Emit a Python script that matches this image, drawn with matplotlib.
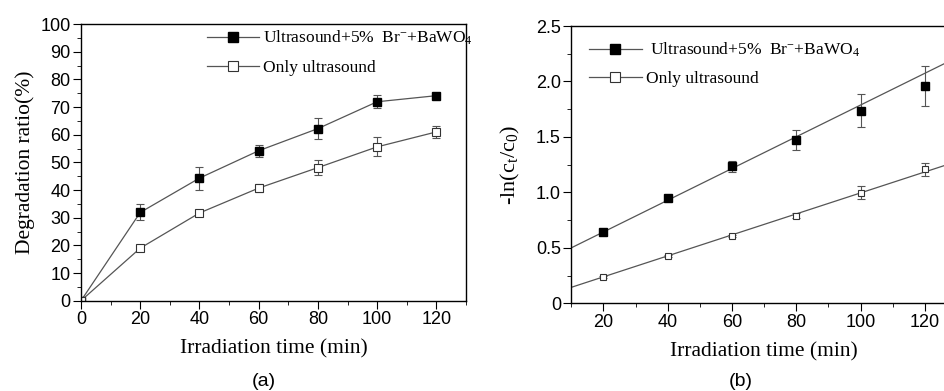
import numpy as np
import matplotlib.pyplot as plt
from matplotlib.ticker import MultipleLocator

plt.rcParams['mathtext.fontset'] = 'custom'
plt.rcParams['mathtext.rm'] = 'Liberation Serif'
plt.rcParams['mathtext.it'] = 'Liberation Serif:italic'
plt.rcParams['font.family'] = 'Liberation Sans'

# (a) degradation ratio
t_a = [0, 20, 40, 60, 80, 100, 120]
deg_br = [0, 31.9, 44.3, 54.2, 62.2, 71.9, 74.1]
deg_br_err = [0, 2.9, 4.2, 2.1, 3.7, 2.3, 0.8]
deg_only = [0, 19.0, 31.7, 40.7, 48.1, 55.6, 61.0]
deg_only_err = [0, 0.5, 0.5, 1.3, 2.6, 3.4, 2.1]

# (b) -ln(ct/c0)
t_b = [20, 40, 60, 80, 100, 120]
ln_br = [0.64, 0.945, 1.235, 1.47, 1.737, 1.956]
ln_br_err = [0.02, 0.02, 0.05, 0.09, 0.147, 0.18]
ln_only = [0.24, 0.427, 0.61, 0.79, 0.998, 1.208]
ln_only_err = [0.01, 0.01, 0.01, 0.02, 0.057, 0.06]
# fitted lines (end points)
fit_x = [10, 130]
fit_br = [0.50, 2.217]
fit_only = [0.144, 1.279]

lbl_br = 'Ultrasound+5%  Br$^{-}$+BaWO$_4$'
lbl_only = 'Only ultrasound'

line_c = '#555555'
serif = 'Liberation Serif'

fig = plt.figure(figsize=(9.44, 3.91), dpi=100)
ax1 = fig.add_axes([0.0858, 0.2309, 0.4078, 0.7077])
ax2 = fig.add_axes([0.6052, 0.2243, 0.4086, 0.7092])


def style(ax):
    for s in ax.spines.values():
        s.set_linewidth(1.0)
    ax.tick_params(which='both', direction='out', top=False, right=False, labelsize=13)
    ax.tick_params(which='major', length=5.5, pad=2)
    ax.tick_params(which='minor', length=3)


def handles(ax):
    hb, = ax.plot([], [], color=line_c, lw=0.9, marker='s', ms=6.5, mfc='black', mec='black')
    ho, = ax.plot([], [], color=line_c, lw=0.9, marker='s', ms=6.5, mfc='white',
                  mec='#333333', mew=0.8)
    return [hb, ho]


# ---- (a)
ax1.errorbar(t_a, deg_br, yerr=deg_br_err, color=line_c, lw=0.9, marker='s', ms=6,
             mfc='black', mec='black', ecolor=line_c, elinewidth=0.8, capsize=3, capthick=0.8)
ax1.errorbar(t_a, deg_only, yerr=deg_only_err, color=line_c, lw=0.9, marker='s', ms=5.5,
             mfc='white', mec='#333333', mew=0.8, ecolor=line_c, elinewidth=0.8, capsize=3,
             capthick=0.8)
ax1.set_xlim(0, 130)
ax1.set_ylim(0, 100)
ax1.xaxis.set_major_locator(MultipleLocator(20))
ax1.xaxis.set_minor_locator(MultipleLocator(10))
ax1.yaxis.set_major_locator(MultipleLocator(10))
ax1.yaxis.set_minor_locator(MultipleLocator(5))
style(ax1)
ax1.set_xlabel('Irradiation time (min)', family=serif, fontsize=15.5, labelpad=8)
ax1.set_ylabel('Degradation ratio(%)', family=serif, fontsize=15.5, labelpad=4)
ax1.legend(handles(ax1), [lbl_br, lbl_only], loc='upper left', bbox_to_anchor=(0.3, 1.02),
           frameon=False, prop={'family': serif, 'size': 12.5}, handlelength=3.0,
           handletextpad=0.25, labelspacing=0.7, borderaxespad=0.2)
fig.text(0.279, 0.024, '(a)', ha='center', va='center', fontsize=14)

# ---- (b)
ax2.plot(fit_x, fit_br, color=line_c, lw=0.9)
ax2.plot(fit_x, fit_only, color=line_c, lw=0.9)
ax2.errorbar(t_b, ln_br, yerr=ln_br_err, ls='none', marker='s', ms=6,
             mfc='black', mec='black', ecolor=line_c, elinewidth=0.8, capsize=3, capthick=0.8)
ax2.errorbar(t_b, ln_only, yerr=ln_only_err, ls='none', marker='s', ms=5,
             mfc='white', mec='#333333', mew=0.8, ecolor=line_c, elinewidth=0.8, capsize=3,
             capthick=0.8)
ax2.set_xlim(10, 130)
ax2.set_ylim(0, 2.5)
ax2.xaxis.set_major_locator(MultipleLocator(20))
ax2.xaxis.set_minor_locator(MultipleLocator(10))
ax2.yaxis.set_minor_locator(MultipleLocator(0.25))
ax2.set_yticks([0, 0.5, 1.0, 1.5, 2.0, 2.5])
ax2.set_yticklabels(['0', '0.5', '1.0', '1.5', '2.0', '2.5'])
style(ax2)
ax2.set_xlabel('Irradiation time (min)', family=serif, fontsize=15.5, labelpad=8)
ax2.set_ylabel('-ln(c$_\\mathrm{t}$/c$_0$)', family=serif, fontsize=16, labelpad=10)
ax2.legend(handles(ax2), [' ' + lbl_br, lbl_only], loc='upper left',
           bbox_to_anchor=(0.02, 0.985), frameon=False, prop={'family': serif, 'size': 12.5},
           handlelength=3.0, handletextpad=0.25, labelspacing=0.7, borderaxespad=0.2)
fig.text(0.785, 0.024, '(b)', ha='center', va='center', fontsize=14)

fig.savefig('out.png', dpi=100)
